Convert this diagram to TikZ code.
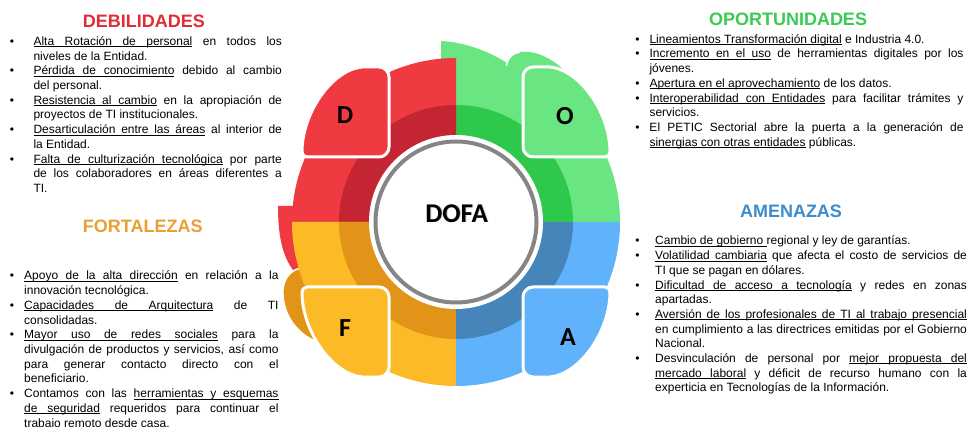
\documentclass[tikz,border=0pt]{standalone}
\usepackage{fontspec}
\setmainfont{Liberation Sans}
\newfontfamily\calfont{Carlito}

\definecolor{redL}{HTML}{EE3A40}
\definecolor{redD}{HTML}{C42532}
\definecolor{greenL}{HTML}{69E581}
\definecolor{greenD}{HTML}{2EC94A}
\definecolor{orangeL}{HTML}{FCBB26}
\definecolor{orangeD}{HTML}{E19417}
\definecolor{blueL}{HTML}{60B3FA}
\definecolor{blueD}{HTML}{4585BA}
\definecolor{ringgray}{HTML}{858585}
\definecolor{dTitle}{HTML}{E12D37}
\definecolor{oTitle}{HTML}{3CCB52}
\definecolor{fTitle}{HTML}{E8A034}
\definecolor{aTitle}{HTML}{3C8CCD}

% underline that keeps the justified (stretchable) spaces underlined too
\newsavebox\ulbox
\newcommand\U[1]{\leavevmode\sbox\ulbox{#1}\rlap{\rule[-1.8pt]{\wd\ulbox}{0.9pt}}\usebox\ulbox}
\newcommand\US{\leaders\hrule height -0.9pt depth 1.8pt\hskip\fontdimen2\font plus\fontdimen3\font minus\fontdimen4\font\relax}
\newcommand\ulin[1]{\ulA#1 \ulend}
\def\ulA#1 #2\ulend{\U{#1}\ifx\relax#2\relax\else\US\ulA#2\ulend\fi}

% bullet hanging to the left of the text column
\newcommand\itm[1]{\par\noindent\llap{\makebox[0pt]{\textbullet}\hspace*{#1}}}
\newcommand\listfont{\fontsize{12pt}{14.7pt}\selectfont
  \hyphenpenalty=10000 \exhyphenpenalty=10000 \tolerance=10000 \hbadness=10000 \emergencystretch=0pt }

\begin{document}
\begin{tikzpicture}[x=1pt, y=1pt,
  title/.style={font=\bfseries\fontsize{18pt}{20pt}\selectfont, inner sep=0pt},
  listbox/.style={anchor=base west, inner sep=0pt},
  tile/.style={draw=white, line width=3pt, line join=round},
  letter/.style={font=\calfont\bfseries\fontsize{26pt}{28pt}\selectfont, inner sep=0pt},
  dofa/.style={font=\calfont\bfseries\fontsize{27pt}{29pt}\selectfont, inner sep=0pt}]

\useasboundingbox (0,0) rectangle (971,-427);
\fill[white] (0,0) rectangle (971,-427);

% ---------- the cycle ----------
\begin{scope}[shift={(456,-222)}]
  % swirl tabs behind the ring
  \fill[redL] (-156,16) -- (-178,16) .. controls (-178,-13) and (-174,-33) .. (-163,-48) -- (-151,-48) -- cycle;
  \filldraw[fill=orangeD, draw=white, line width=1.5pt] (-150,-40) -- (-156,-46)
     .. controls (-170,-50) and (-174,-63) .. (-173,-73)
     .. controls (-172,-93) and (-160,-110) .. (-143,-118) -- (-126,-108) -- cycle;
  \fill[greenL] (-15,150) -- (-15,181) .. controls (9,180) and (34,170) .. (51,159) -- (56,147) -- cycle;
  \fill[greenL] (49,150) -- (51,159) .. controls (53,165) and (57,169) .. (64,170)
     .. controls (79,172) and (96,164) .. (110,150) -- (124,102) -- (54,102) -- cycle;
  \draw[white, line width=1.5pt] (50,154) -- (51,159) .. controls (53,165) and (57,169) .. (64,170);

  % quadrants: light outer band, dark inner band
  \foreach \a/\l/\d in {0/greenL/greenD, 90/redL/redD, 180/orangeL/orangeD, 270/blueL/blueD} {
    \fill[\l] (0,0) -- (\a:164) arc[start angle=\a, delta angle=90, radius=164] -- cycle;
    \fill[\d] (0,0) -- (\a:117) arc[start angle=\a, delta angle=90, radius=117] -- cycle;
  }

  % centre disc
  \fill[white] (0,0) circle[radius=87];
  \draw[ringgray, line width=4pt] (0,0) circle[radius=80.5];

  % letter tiles
  \foreach \sx/\sy/\c in {1/1/redL, -1/1/greenL, 1/-1/orangeL, -1/-1/blueL} {
    \filldraw[tile, fill=\c, xscale=\sx, yscale=\sy]
      (-149,65) -- (-77,65) .. controls (-71.5,65) and (-67,69.5) .. (-67,75)
      -- (-67,145) .. controls (-67,150.5) and (-71.5,155) .. (-77,155)
      -- (-94,155) .. controls (-124,152) and (-153,110) .. (-154,72)
      .. controls (-154,67) and (-152,65) .. (-149,65) -- cycle;
  }

  \node[letter] (dl) at (-111,107) {D};
  \node[letter] (ol) at (109,106) {O};
  \node[letter] (fl) at (-111,-106) {F};
  \node[letter] (al) at (112,-115) {A};

  \node[dofa, text=black!40, opacity=0.6] (dofashadow) at (1.6,7.8) {DOFA};
  \node[dofa] (dofa) at (0.7,8.7) {DOFA};
\end{scope}

% ---------- titles ----------
\node[title, text=dTitle] (dtitle) at (143.8,-21.2) {DEBILIDADES};
\node[title, text=fTitle] (ftitle) at (142.8,-226.3) {FORTALEZAS};
\node[title, text=oTitle] (otitle) at (788,-19.7) {OPORTUNIDADES};
\node[title, text=aTitle] (atitle) at (791,-211.7) {AMENAZAS};

% ---------- lists ----------
\node[listbox] (dlist) at (33.3,-45.5) {\parbox[t]{248.4pt}{\listfont
\itm{21.6pt}\ulin{Alta Rotación de personal} en todos los\linebreak niveles de la Entidad.
\itm{21.6pt}\ulin{Pérdida de conocimiento} debido al cambio\linebreak del personal.
\itm{21.6pt}\ulin{Resistencia al cambio} en la apropiación de\linebreak proyectos de TI institucionales.
\itm{21.6pt}\ulin{Desarticulación entre las áreas} al interior de\linebreak la Entidad.
\itm{21.6pt}\ulin{Falta de culturización tecnológica} por parte\linebreak de los colaboradores en áreas diferentes a\linebreak TI.}};

\node[listbox] (flist) at (24,-280) {\parbox[t]{254.3pt}{\listfont
\itm{12.3pt}\ulin{Apoyo de la alta dirección} en relación a la\linebreak innovación tecnológica.
\itm{12.3pt}\ulin{Capacidades de Arquitectura} de TI\linebreak consolidadas.
\itm{12.3pt}\ulin{Mayor uso de redes sociales} para la\linebreak divulgación de productos y servicios, así como\linebreak para generar contacto directo con el\linebreak beneficiario.
\itm{12.3pt}Contamos con las \ulin{herramientas y esquemas}\linebreak \ulin{de seguridad} requeridos para continuar el\linebreak trabajo remoto desde casa.}};

\node[listbox] (olist) at (649.3,-43.3) {\parbox[t]{314pt}{\listfont
\itm{12pt}\ulin{Lineamientos Transformación digital} e Industria 4.0.
\itm{12pt}\ulin{Incremento en el uso} de herramientas digitales por los\linebreak jóvenes.
\itm{12pt}\ulin{Apertura en el aprovechamiento} de los datos.
\itm{12pt}\ulin{Interoperabilidad con Entidades} para facilitar trámites y\linebreak servicios.
\itm{12pt}El PETIC Sectorial abre la puerta a la generación de\linebreak \ulin{sinergias con otras entidades} públicas.}};

\node[listbox] (alist) at (655,-245) {\parbox[t]{311.7pt}{\listfont
\itm{17.7pt}\ulin{Cambio de gobierno}\US regional y ley de garantías.
\itm{17.7pt}\ulin{Volatilidad cambiaria} que afecta el costo de servicios de\linebreak TI que se pagan en dólares.
\itm{17.7pt}\ulin{Dificultad de acceso a tecnología} y redes en zonas\linebreak apartadas.
\itm{17.7pt}\ulin{Aversión de los profesionales de TI al trabajo presencial}\linebreak en cumplimiento a las directrices emitidas por el Gobierno\linebreak Nacional.
\itm{17.7pt}Desvinculación de personal por \ulin{mejor propuesta del}\linebreak \ulin{mercado laboral} y déficit de recurso humano con la\linebreak experticia en Tecnologías de la Información.}};

\end{tikzpicture}
\end{document}
